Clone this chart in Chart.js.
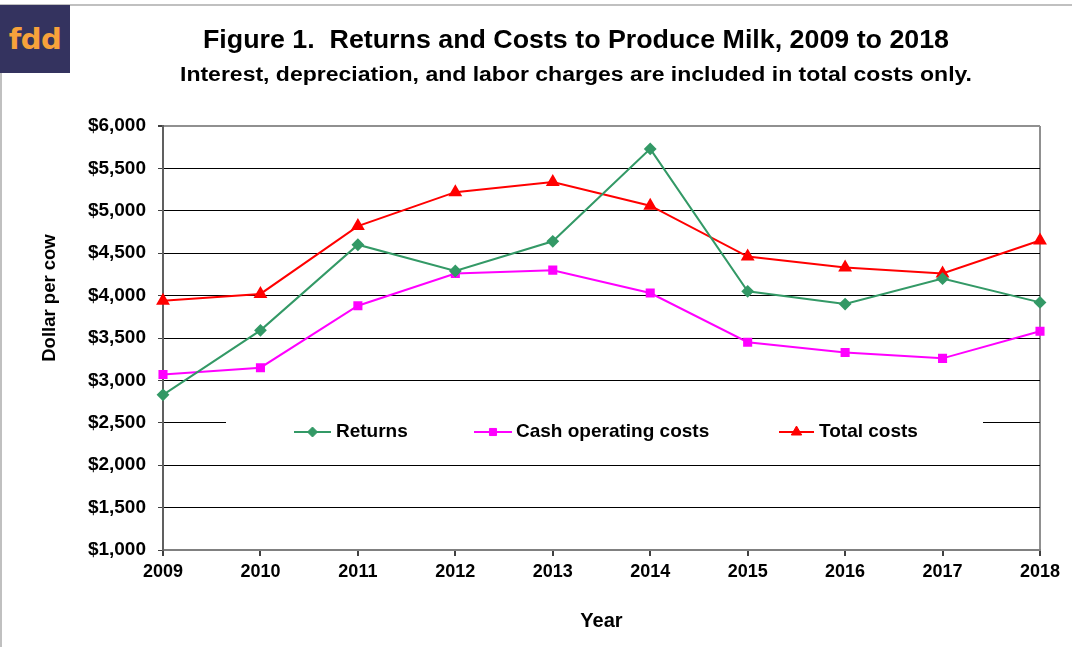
<!DOCTYPE html>
<html>
<head>
<meta charset="utf-8">
<script src="https://cdn.jsdelivr.net/npm/chart.js@4.4.1/dist/chart.umd.min.js"></script>
<style>
  body { margin: 0; background: #fff; }
  #wrap { position: relative; width: 1072px; height: 647px; overflow: hidden; }
  #frame { position: absolute; left: 0; top: 4px; width: 1072px; height: 650px;
           border-top: 2px solid #c0c0c0; border-left: 2px solid #c0c0c0; box-sizing: border-box; }
  #logo { position: absolute; left: 0; top: 5px; width: 70px; height: 68px; background: #34335f;
          color: #f7a23b; font: bold 29px "DejaVu Sans", sans-serif; text-align: center; line-height: 68px;
          letter-spacing: -0.5px; }
  canvas { position: absolute; left: 0; top: 0; }
</style>
</head>
<body>
<div id="wrap">
  <div id="frame"></div>
  <canvas id="milk-chart" width="1072" height="647"></canvas>
  <div id="logo">fdd</div>
</div>
<script>
// valeurs
const years = ['2009', '2010', '2011', '2012', '2013', '2014', '2015', '2016', '2017', '2018'];
const returns = [2830, 3590, 4600, 4290, 4640, 5730, 4050, 3900, 4200, 3920];
const cashCosts = [3070, 3150, 3880, 4260, 4300, 4030, 3450, 3330, 3260, 3580];
const totalCosts = [3940, 4020, 4820, 5220, 5340, 5060, 4460, 4330, 4260, 4650];

const FONT = '"Liberation Sans", Arial, sans-serif';

// texte étiré horizontalement pour tenir la largeur voulue
function stretchText(ctx, text, cx, cy, width) {
    const w = ctx.measureText(text).width;
    ctx.save();
    ctx.translate(cx, cy);
    ctx.scale(width / w, 1);
    ctx.fillText(text, 0, 0);
    ctx.restore();
}

// titres du haut + titre de l'axe vertical
const titlePlugin = {
    id: 'titles',
    afterDraw(chart) {
        const ctx = chart.ctx;
        ctx.save();
        ctx.fillStyle = '#000';
        ctx.textAlign = 'center';
        ctx.textBaseline = 'middle';
        ctx.font = 'bold 25px ' + FONT;
        stretchText(ctx, 'Figure 1.  Returns and Costs to Produce Milk, 2009 to 2018', 576, 41, 746);
        ctx.font = 'bold 20px ' + FONT;
        stretchText(ctx, 'Interest, depreciation, and labor charges are included in total costs only.', 576, 75, 792);

        ctx.translate(50, 298);
        ctx.rotate(-Math.PI / 2);
        ctx.font = 'bold 18.5px ' + FONT;
        ctx.fillText('Dollar per cow', 0, 0);
        ctx.restore();
    }
};

// légende dans la zone du graphique
const legendItems = [
    { label: 'Returns', color: '#339966', style: 'rectRot', radius: 5, x1: 294, x2: 331, tx: 336 },
    { label: 'Cash operating costs', color: '#ff00ff', style: 'rect', radius: 5, x1: 474, x2: 512, tx: 516 },
    { label: 'Total costs', color: '#ff0000', style: 'triangle', radius: 6, x1: 779, x2: 814, tx: 819 }
];
const legendPlugin = {
    id: 'innerLegend',
    beforeDatasetsDraw(chart) {
        const ctx = chart.ctx;
        ctx.save();
        ctx.fillStyle = '#fff';
        ctx.fillRect(226, 413, 757, 38);
        ctx.restore();
    },
    afterDatasetsDraw(chart) {
        const ctx = chart.ctx;
        const y = 432;
        ctx.save();
        legendItems.forEach(function (it) {
            ctx.strokeStyle = it.color;
            ctx.fillStyle = it.color;
            ctx.lineWidth = 2;
            ctx.beginPath();
            ctx.moveTo(it.x1, y);
            ctx.lineTo(it.x2, y);
            ctx.stroke();
            ctx.lineWidth = 1;
            Chart.helpers.drawPoint(ctx, { pointStyle: it.style, radius: it.radius, rotation: 0, borderWidth: 1 },
                (it.x1 + it.x2) / 2, y);
            ctx.fillStyle = '#000';
            ctx.font = 'bold 19px ' + FONT;
            ctx.textAlign = 'left';
            ctx.textBaseline = 'middle';
            ctx.fillText(it.label, it.tx, y);
        });
        ctx.restore();
    }
};

const ctx = document.getElementById('milk-chart').getContext('2d');
const milkChart = new Chart(ctx, {
    type: 'line',
    data: {
        labels: years,
        datasets: [
            {
                label: 'Returns',
                data: returns,
                borderColor: '#339966',
                backgroundColor: '#339966',
                pointStyle: 'rectRot',
                pointRadius: 5,
                borderWidth: 2,
                tension: 0,
                clip: false
            },
            {
                label: 'Cash operating costs',
                data: cashCosts,
                borderColor: '#ff00ff',
                backgroundColor: '#ff00ff',
                pointStyle: 'rect',
                pointRadius: 5,
                borderWidth: 2,
                tension: 0,
                clip: false
            },
            {
                label: 'Total costs',
                data: totalCosts,
                borderColor: '#ff0000',
                backgroundColor: '#ff0000',
                pointStyle: 'triangle',
                pointRadius: 6,
                borderWidth: 2,
                tension: 0,
                clip: false
            }
        ]
    },
    options: {
        responsive: false,
        animation: false,
        devicePixelRatio: 1,
        layout: { padding: { top: 126, right: 32, left: 0, bottom: 0 } },
        plugins: {
            legend: { display: false },
            tooltip: { enabled: false }
        },
        scales: {
            x: {
                offset: false,
                afterFit: function (s) { s.height = 97; },
                grid: {
                    drawOnChartArea: true,
                    color: function (c) { return c.index === years.length - 1 ? '#909090' : 'rgba(0,0,0,0)'; },
                    lineWidth: 2,
                    tickColor: '#404040',
                    tickLength: 6
                },
                border: { color: '#808080', width: 2 },
                ticks: {
                    color: '#000',
                    font: { family: FONT, size: 18, weight: 'bold' },
                    padding: 5,
                    maxRotation: 0,
                    autoSkip: false
                },
                title: {
                    display: true,
                    text: 'Year',
                    color: '#000',
                    font: { family: FONT, size: 20, weight: 'bold' },
                    padding: { top: 5, bottom: 14 }
                }
            },
            y: {
                min: 1000,
                max: 6000,
                afterFit: function (s) { s.width = 163; },
                grid: {
                    color: function (c) { return c.tick && c.tick.value === 6000 ? '#909090' : '#000'; },
                    lineWidth: function (c) { return c.tick && c.tick.value === 6000 ? 2 : 1; },
                    tickColor: '#404040',
                    tickLength: 5
                },
                border: { color: '#606060', width: 2 },
                ticks: {
                    stepSize: 500,
                    color: '#000',
                    font: { family: FONT, size: 19, weight: 'bold' },
                    padding: 12,
                    callback: function (v) { return '$' + v.toLocaleString('en-US'); }
                },
                title: { display: false }
            }
        }
    },
    plugins: [titlePlugin, legendPlugin]
});
</script>
</body>
</html>
